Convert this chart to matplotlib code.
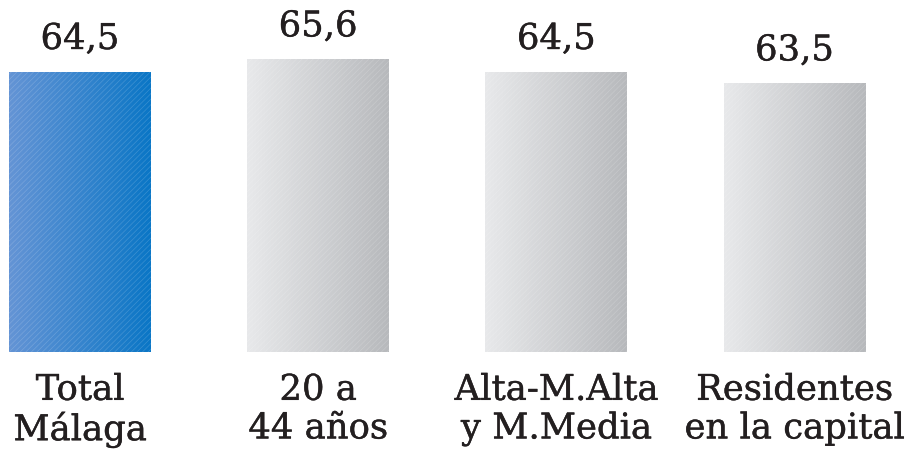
import numpy as np
import matplotlib.pyplot as plt
import matplotlib.patheffects as pe
from matplotlib.colors import LinearSegmentedColormap

categories = ["Total\nMálaga", "20 a\n44 años", "Alta-M.Alta\ny M.Media", "Residentes\nen la capital"]
values = [64.5, 65.6, 64.5, 63.5]
value_labels = ["64,5", "65,6", "64,5", "63,5"]

blue = LinearSegmentedColormap.from_list("blue", ["#6494d5", "#0a76c6"])
gray = LinearSegmentedColormap.from_list("gray", ["#e8e9eb", "#b7b9bc"])
cmaps = [blue, gray, gray, gray]

plt.rcParams["hatch.linewidth"] = 0.5
txt_fx = [pe.withStroke(linewidth=0.3, foreground="#231f20")]

fig = plt.figure(figsize=(9.07, 4.52), dpi=100)
ax = fig.add_axes([0, 99 / 452, 1, 353 / 452])
ax.set_xlim(-0.336, 3.472)
ax.set_ylim(40, 40 + 353 / 11.43)

x = np.arange(len(values))
bars = ax.bar(x, values, width=0.596, color="none", edgecolor="none")

grad = np.linspace(0, 1, 256).reshape(1, -1)
for b, cm in zip(bars, cmaps):
    x0 = b.get_x()
    w = b.get_width()
    im = ax.imshow(grad, cmap=cm, aspect="auto", extent=(x0, x0 + w, 40, b.get_height()), zorder=2)
    im.set_clip_path(b)
    # faint diagonal texture
    ax.bar(b.get_x() + w / 2, b.get_height(), width=w, color="none",
           edgecolor=(1, 1, 1, 0.18), hatch="//////", linewidth=0, zorder=3)

for xi, v, lab in zip(x, values, value_labels):
    ax.annotate(lab, (xi, v), xytext=(0, 23), textcoords="offset pixels",
                ha="center", va="baseline", fontsize=25.5, family="DejaVu Serif",
                color="#231f20", path_effects=txt_fx)

ax.set_xticks(x, categories)
ax.tick_params(axis="x", length=0, pad=15)
for t in ax.get_xticklabels():
    t.set_fontsize(25.5)
    t.set_family("DejaVu Serif")
    t.set_color("#231f20")
    t.set_linespacing(1.17)
    t.set_path_effects(txt_fx)
ax.set_yticks([])
for s in ax.spines.values():
    s.set_visible(False)

fig.savefig("out.png", dpi=100)
